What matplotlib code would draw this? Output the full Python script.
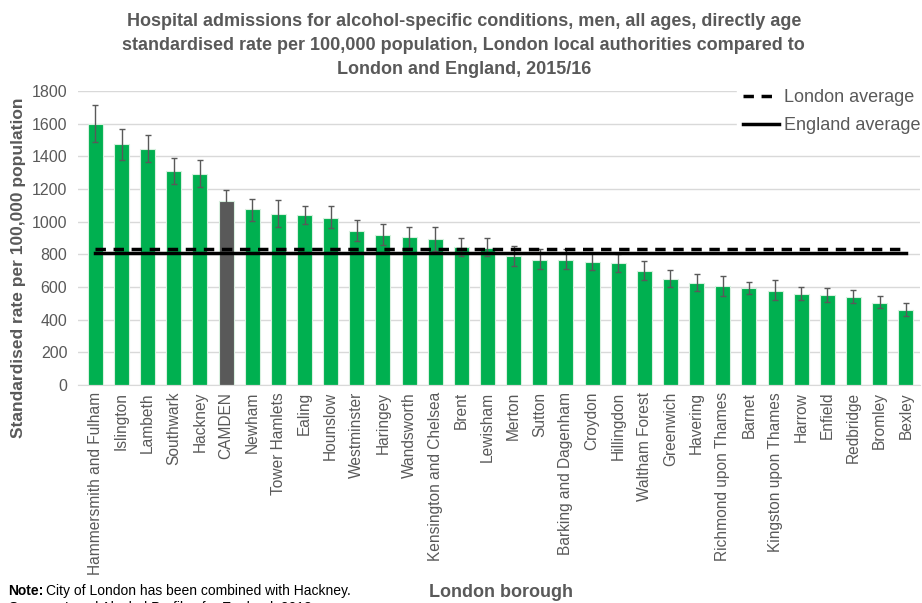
import matplotlib.pyplot as plt
from matplotlib.lines import Line2D

plt.rcParams['font.family'] = ['Liberation Sans', 'DejaVu Sans']

boroughs = ['Hammersmith and Fulham', 'Islington', 'Lambeth', 'Southwark', 'Hackney',
            'CAMDEN', 'Newham', 'Tower Hamlets', 'Ealing', 'Hounslow', 'Westminster',
            'Haringey', 'Wandsworth', 'Kensington and Chelsea', 'Brent', 'Lewisham',
            'Merton', 'Sutton', 'Barking and Dagenham', 'Croydon', 'Hillingdon',
            'Waltham Forest', 'Greenwich', 'Havering', 'Richmond upon Thames', 'Barnet',
            'Kingston upon Thames', 'Harrow', 'Enfield', 'Redbridge', 'Bromley', 'Bexley']
rate = [1600, 1475, 1445, 1310, 1290, 1125, 1075, 1050, 1040, 1025, 945,
        920, 905, 895, 845, 840, 790, 768, 765, 752, 745, 700, 647, 622,
        606, 592, 575, 560, 553, 541, 505, 458]
lower = [1490, 1380, 1365, 1230, 1210, 1045, 1005, 970, 985, 960, 880,
         855, 840, 820, 790, 792, 728, 712, 710, 705, 695, 645, 598, 578,
         545, 555, 520, 520, 510, 500, 470, 420]
upper = [1715, 1565, 1530, 1390, 1375, 1195, 1140, 1130, 1095, 1095, 1010,
         985, 965, 970, 900, 900, 851, 830, 830, 810, 800, 760, 705, 680,
         665, 630, 640, 600, 595, 580, 545, 500]
london_avg = 835
england_avg = 810

GREY = '#595959'
GREEN = '#00B050'

fig = plt.figure(figsize=(9.22, 6.03), dpi=100)
ax = fig.add_axes([0.085, 0.3615, 0.913, 0.4875])

x = list(range(len(boroughs)))
colors = [GREY if b == 'CAMDEN' else GREEN for b in boroughs]
yerr = [[r - lo for r, lo in zip(rate, lower)], [hi - r for r, hi in zip(rate, upper)]]
ax.bar(x, rate, width=0.57, color=colors, edgecolor='#d8f0df', linewidth=0.8, zorder=2)
ax.errorbar(x, rate, yerr=yerr, fmt='none', ecolor=GREY, elinewidth=1, capsize=2.5,
            capthick=1, zorder=3)

ax.plot(x, [london_avg] * len(x), color='black', lw=2.5, ls=(0, (3, 2.2)), zorder=4)
ax.plot(x, [england_avg] * len(x), color='black', lw=2.5, zorder=4)

ax.set_ylim(0, 1800)
ax.set_yticks(range(0, 1801, 200))
ax.set_xlim(-0.65, 31.55)
ax.set_xticks(x)
ax.set_xticklabels(boroughs, rotation=90, fontsize=11.2, color=GREY)
ax.tick_params(axis='y', labelsize=11.5, colors=GREY, length=0, pad=8)
ax.tick_params(axis='x', length=0, pad=5)
ax.grid(axis='y', color='#d9d9d9', lw=1, zorder=0)
for s in ['top', 'right', 'left']:
    ax.spines[s].set_visible(False)
ax.spines['bottom'].set_color('#d9d9d9')

ax.set_ylabel('Standardised rate per 100,000 population', fontsize=12.5, fontweight='bold',
              color=GREY)
ax.yaxis.set_label_coords(-0.062, 0.4)

handles = [Line2D([], [], color='black', lw=2.5, ls=(0, (3, 2.2))),
           Line2D([], [], color='black', lw=2.5)]
leg = ax.legend(handles, ['London average', 'England average'], loc='upper right',
                bbox_to_anchor=(1.018, 1.055), fontsize=13, frameon=True, framealpha=1,
                edgecolor='white', handlelength=2.0, handletextpad=0.3, labelspacing=0.6,
                borderpad=0.3)
for t in leg.get_texts():
    t.set_color(GREY)

fig.text(0.503, 0.979, 'Hospital admissions for alcohol-specific conditions, men, all ages, directly age\n'
         'standardised rate per 100,000 population, London local authorities compared to\n'
         'London and England, 2015/16', ha='center', va='top', fontsize=13,
         fontweight='bold', color=GREY, linespacing=1.55)

fig.text(0.543, 0.018, 'London borough', ha='center', va='center', fontsize=13,
         fontweight='bold', color=GREY)
fig.text(0.009, 0.02, 'Note:', ha='left', va='center', fontsize=10, fontweight='bold')
fig.text(0.05, 0.02, 'City of London has been combined with Hackney.',
         ha='left', va='center', fontsize=10)
fig.text(0.009, -0.008, 'Source:', ha='left', va='center', fontsize=10, fontweight='bold')
fig.text(0.07, -0.008, 'Local Alcohol Profiles for England, 2018',
         ha='left', va='center', fontsize=10)

fig.savefig('out.png', dpi=100)
